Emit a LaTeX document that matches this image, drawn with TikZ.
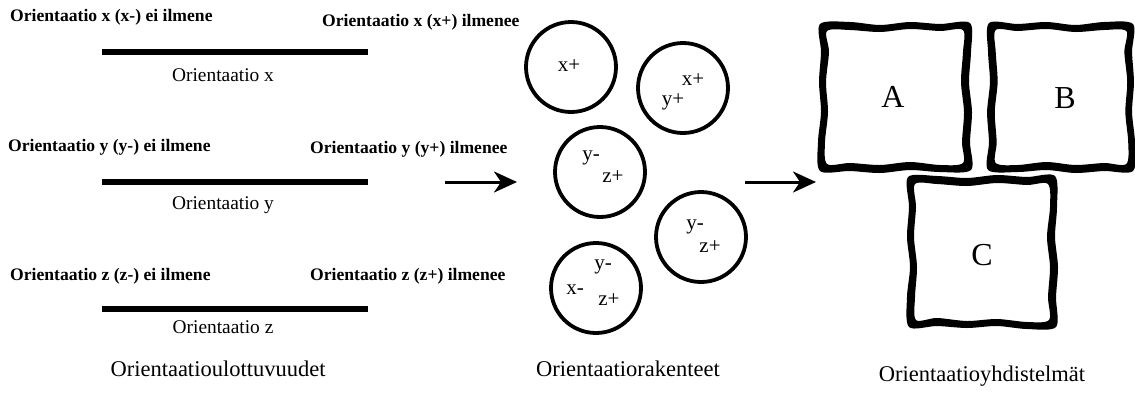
\documentclass[tikz,border=0pt]{standalone}
\usepackage{fontspec}
\setmainfont{Liberation Serif}
\usetikzlibrary{calc, positioning}
\usetikzlibrary{arrows.meta}

\tikzset{
  endlabel/.style={font=\fontsize{17.6}{20}\selectfont\bfseries, inner sep=0pt},
  axislabel/.style={font=\fontsize{19.4}{22}\selectfont, inner sep=0pt},
  caption/.style={font=\fontsize{22.5}{26}\selectfont, inner sep=0pt},
  axisbar/.style={line width=6pt},
  orb/.style={circle, draw, line width=3.8pt, minimum size=90pt, inner sep=0pt},
  orbtext/.style={font=\fontsize{21}{24}\selectfont, inner sep=0pt},
  boxletter/.style={font=\fontsize{32}{36}\selectfont, inner sep=0pt},
  flow/.style={line width=3pt, -{Stealth[length=23pt, width=21pt, inset=7pt]}},
}

% hand drawn frame round a box, thick and uneven
\newcommand{\wobframe}[1]{%
  \begin{scope}[#1]
    \fill[even odd rule]
      plot[smooth cycle, tension=0.5] coordinates {(-75,-73) (-45,-75) (-15,-72) (15,-75) (45,-73) (75,-74)
        (76,-45) (74,-15) (77,15) (75,45) (76,73)
        (45,75) (15,73) (-15,76) (-45,74) (-75,74)
        (-77,45) (-74,15) (-76,-15) (-74,-45)}
      plot[smooth cycle, tension=0.5] coordinates {(-68,-66) (-45,-67) (-15,-65) (15,-68) (45,-66) (68,-67)
        (68,-45) (66,-15) (69,15) (67,45) (68,66)
        (45,68) (15,65) (-15,68) (-45,66) (-68,67)
        (-70,45) (-67,15) (-69,-15) (-66,-45)};
  \end{scope}}

\begin{document}
\begin{tikzpicture}[x=1pt, y=-1pt]
\useasboundingbox (0,0) rectangle (1135,392);

% orientation dimensions
\node[endlabel, anchor=west] (xneg) at (10,17) {Orientaatio x (x-) ei ilmene};
\node[endlabel, anchor=west] (xpos) at (322,22) {Orientaatio x (x+) ilmenee};
\coordinate (xbarL) at (102,52);
\coordinate (xbarR) at (368,52);
\draw[axisbar] (xbarL) -- (xbarR);
\node[axislabel] (xname) at (223,75) {Orientaatio x};

\node[endlabel, anchor=west] (yneg) at (8,147) {Orientaatio y (y-) ei ilmene};
\node[endlabel, anchor=west] (ypos) at (310,149) {Orientaatio y (y+) ilmenee};
\coordinate (ybarL) at (102,182);
\coordinate (ybarR) at (368,182);
\draw[axisbar] (ybarL) -- (ybarR);
\node[axislabel] (yname) at (223,205) {Orientaatio y};

\node[endlabel, anchor=west] (zneg) at (10,276) {Orientaatio z (z-) ei ilmene};
\node[endlabel, anchor=west] (zpos) at (310,276) {Orientaatio z (z+) ilmenee};
\coordinate (zbarL) at (102,309);
\coordinate (zbarR) at (368,309);
\draw[axisbar] (zbarL) -- (zbarR);
\node[axislabel] (zname) at (223,327) {Orientaatio z};

\node[caption] (dimcap) at (218,369) {Orientaatioulottuvuudet};

% orientation structures
\node[orb] (orbX) at (571,67) {};
\node[orb] (orbXY) at (683,88) {};
\node[orb] (orbYZa) at (600,172) {};
\node[orb] (orbYZb) at (701,237) {};
\node[orb] (orbXYZ) at (596,288) {};

\node[orbtext] (tX) at (569,66) {x+};
\node[orbtext] (tXYx) at (693,80) {x+};
\node[orbtext] (tXYy) at (673,102) {y+};
\node[orbtext] (tYZay) at (591,158) {y-};
\node[orbtext] (tYZaz) at (613,177) {z+};
\node[orbtext] (tYZby) at (695,227) {y-};
\node[orbtext] (tYZbz) at (710,247) {z+};
\node[orbtext] (tXYZy) at (603,267) {y-};
\node[orbtext] (tXYZx) at (575,290) {x-};
\node[orbtext] (tXYZz) at (609,300) {z+};

\node[caption] (strcap) at (628,369) {Orientaatiorakenteet};

% combinations
\node[boxletter] (boxA) at (893,97) {A};
\node[boxletter] (boxB) at (1065,98) {B};
\node[boxletter] (boxC) at (982,255) {C};
\wobframe{shift={(895,97)}}
\wobframe{shift={(1061,97)}, xscale=-0.96}
\wobframe{shift={(982,252)}, rotate=90}

\node[caption] (combcap) at (982,376) {Orientaatioyhdistelmät};

% flow
\coordinate (flowAin) at (445,182);
\coordinate (flowAout) at (517,182);
\coordinate (flowBin) at (745,182);
\coordinate (flowBout) at (816,182);
\draw[flow] (flowAin) -- (flowAout);
\draw[flow] (flowBin) -- (flowBout);
\end{tikzpicture}
\end{document}
